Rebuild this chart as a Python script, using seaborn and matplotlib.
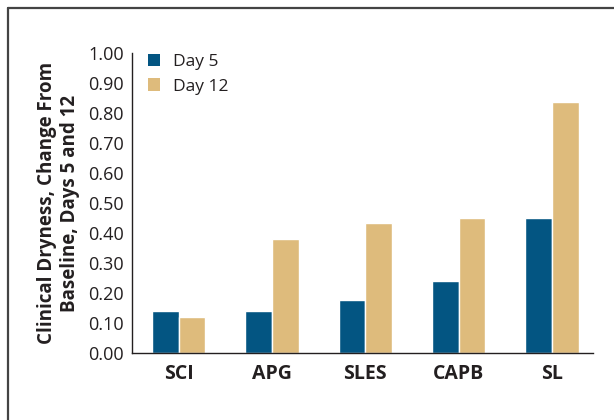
import pandas as pd
import seaborn as sns
import matplotlib.pyplot as plt
from matplotlib.lines import Line2D
from matplotlib.patches import Patch

# ----------------------------------------
# Data
# ----------------------------------------
surfactants = ["SCI", "APG", "SLES", "CAPB", "SL"]
day5 = [0.14, 0.14, 0.177, 0.24, 0.451]
day12 = [0.12, 0.38, 0.433, 0.45, 0.836]
series_names = ["Day 5", "Day 12"]
y_ticks = [0.0, 0.1, 0.2, 0.3, 0.4, 0.5, 0.6, 0.7, 0.8, 0.9, 1.0]

colors = ["#035582", "#DEBB7C"]

df = pd.DataFrame({
    "surfactant": surfactants * 2,
    "value": day5 + day12,
    "day": [series_names[0]] * len(surfactants) + [series_names[1]] * len(surfactants),
})

sns.set_style("white")
plt.rcParams["font.family"] = ["Open Sans", "DejaVu Sans"]

fig = plt.figure(figsize=(6.14, 4.2), dpi=100)
ax = fig.add_axes([0.215, 0.1595, 0.751, 0.7145])

sns.barplot(data=df, x="surfactant", y="value", hue="day", order=surfactants,
            hue_order=series_names, palette=colors, width=0.57, gap=0,
            saturation=1, ax=ax, legend=False)

ax.set_ylim(0, 1.0)
ax.set_xlim(-0.5, 4.44)
ax.set_yticks(y_ticks)
ax.set_yticklabels([f"{t:.2f}" for t in y_ticks], fontsize=13)

# ticks at the group boundaries, labels at the group centres
ax.set_xticks([i - 0.5 for i in range(len(surfactants))])
ax.set_xticklabels([])
ax.set_xticks(range(len(surfactants)), minor=True)
ax.set_xticklabels(surfactants, minor=True, fontsize=14, fontweight="bold", color="#231f20")
ax.tick_params(axis="x", which="major", direction="out", length=7, width=1, color="#231f20")
ax.tick_params(axis="x", which="minor", length=0, pad=8)
ax.tick_params(axis="y", direction="out", length=4, width=1, color="#231f20",
               labelcolor="#231f20", pad=2)

for side in ["top", "right"]:
    ax.spines[side].set_visible(False)
for side in ["left", "bottom"]:
    ax.spines[side].set_color("#231f20")
    ax.spines[side].set_linewidth(1)

ax.set_xlabel("")
ax.set_ylabel("Clinical Dryness, Change From\nBaseline, Days 5 and 12",
              fontsize=13.5, fontweight="bold", color="#231f20", labelpad=6,
              linespacing=1.15)

handles = [Patch(facecolor=c, edgecolor="none") for c in colors]
ax.legend(handles, series_names, loc="upper left", bbox_to_anchor=(0.0, 1.05),
          frameon=False, fontsize=12.5, handlelength=0.7, handleheight=0.7,
          handletextpad=0.75, labelspacing=0.5, labelcolor="#231f20")

# frame around the figure (only top and left edges are visible)
fig.add_artist(Line2D([0.013, 1.0], [0.98, 0.98], color="#444444", lw=1.6,
                      transform=fig.transFigure))
fig.add_artist(Line2D([0.013, 0.013], [0.0, 0.98], color="#444444", lw=1.6,
                      transform=fig.transFigure))

fig.savefig("out.png", dpi=100)
